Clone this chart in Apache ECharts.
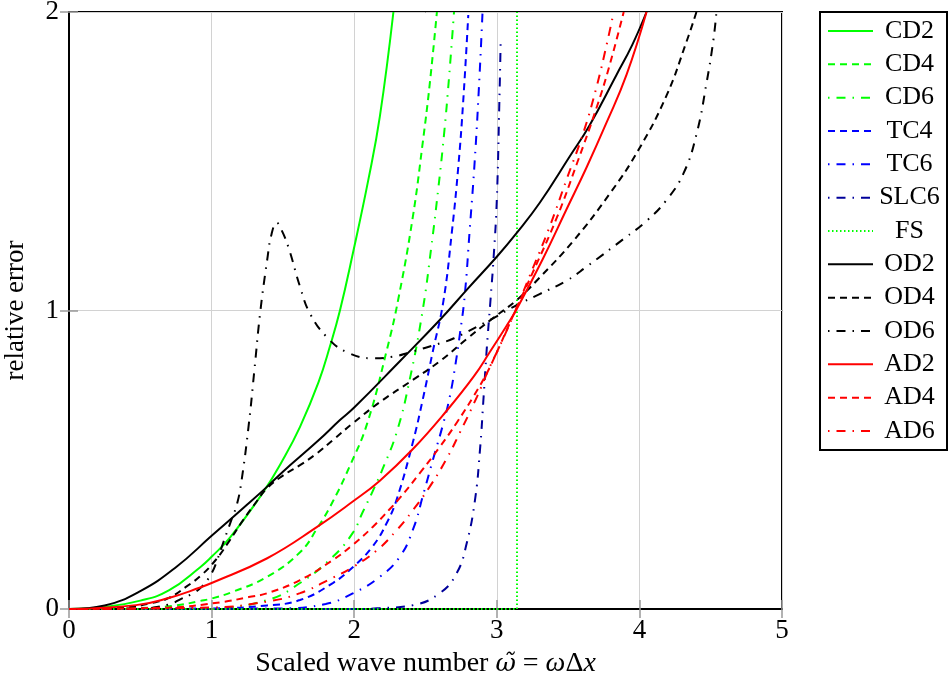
<!DOCTYPE html>
<html><head><meta charset="utf-8">
<script src="https://cdn.jsdelivr.net/npm/echarts@6/dist/echarts.min.js"></script>
<style>html,body{margin:0;padding:0;background:#fff}#c{width:952px;height:682px}</style>
</head><body><div id="c"></div>
<script>
// ---- data ----
const xTickValues = [0, 1, 2, 3, 4, 5];
const yTickValues = [0, 1, 2];
const seriesNames = ['CD2','CD4','CD6','TC4','TC6','SLC6','FS','OD2','OD4','OD6','AD2','AD4','AD6'];

const cd2 = [[0,0],[0.25,0.007],[0.5,0.028],[0.7,0.062],[0.92,0.14],[1.0,0.175],[1.13,0.24],[1.36,0.39],[1.5,0.5],[1.62,0.61],[1.75,0.76],[1.83,0.88],[1.9,1.0],[1.99,1.19],[2.1,1.44],[2.18,1.65],[2.275,2.0]];
const cd4 = [[0,0],[0.5,0.003],[0.75,0.012],[0.92,0.027],[1.0,0.035],[1.15,0.058],[1.39,0.108],[1.62,0.19],[1.74,0.27],[1.85,0.36],[1.97,0.48],[2.09,0.62],[2.23,0.87],[2.31,1.04],[2.41,1.31],[2.48,1.56],[2.53,1.76],[2.58,2.0]];
const cd6 = [[0,0],[1.0,0.003],[1.39,0.03],[1.62,0.087],[1.85,0.175],[1.99,0.255],[2.06,0.325],[2.13,0.395],[2.2,0.47],[2.3,0.595],[2.39,0.77],[2.48,1.0],[2.54,1.21],[2.59,1.41],[2.63,1.59],[2.665,1.78],[2.70,2.0]];
const tc4 = [[0,0],[1.0,0.002],[1.39,0.012],[1.62,0.03],[1.85,0.087],[1.99,0.14],[2.13,0.21],[2.23,0.29],[2.30,0.37],[2.41,0.556],[2.48,0.70],[2.55,0.86],[2.625,1.03],[2.684,1.259],[2.73,1.482],[2.765,1.705],[2.80,1.99]];
const tc6 = [[0,0],[1.5,0.002],[1.8,0.017],[1.99,0.052],[2.18,0.108],[2.32,0.175],[2.415,0.27],[2.485,0.385],[2.555,0.505],[2.625,0.622],[2.672,0.715],[2.707,0.81],[2.742,0.924],[2.775,1.05],[2.81,1.27],[2.845,1.5],[2.875,1.75],[2.90,2.0]];
const slc6 = [[0,0],[2.0,0.0],[2.18,0.003],[2.415,0.013],[2.6,0.053],[2.719,0.12],[2.789,0.22],[2.847,0.365],[2.882,0.533],[2.906,0.70],[2.929,0.868],[2.955,1.03],[2.978,1.18],[3.0,1.37],[3.018,1.70],[3.027,1.9]];
const fs = [[0,0],[3.1416,0],[3.1416,2]];
const od2 = [[0,0],[0.25,0.012],[0.5,0.06],[0.75,0.14],[1.0,0.245],[1.25,0.35],[1.39,0.41],[1.5,0.46],[1.75,0.565],[1.9,0.633],[2.0,0.675],[2.32,0.83],[2.6,0.968],[2.8,1.075],[3.0,1.18],[3.14,1.26],[3.3,1.36],[3.51,1.515],[3.65,1.62],[3.84,1.79],[3.95,1.89],[4.05,2.0]];
const od4 = [[0,0],[0.4,0.006],[0.58,0.02],[0.70,0.037],[0.82,0.074],[0.93,0.114],[1.03,0.165],[1.12,0.225],[1.21,0.29],[1.30,0.35],[1.39,0.405],[1.5,0.447],[1.62,0.482],[1.74,0.522],[1.85,0.566],[1.99,0.622],[2.18,0.693],[2.41,0.767],[2.60,0.83],[2.79,0.905],[2.975,0.975],[3.14,1.035],[3.30,1.11],[3.54,1.235],[3.79,1.39],[3.99,1.535],[4.19,1.72],[4.33,1.90],[4.40,2.0]];
const od6 = [[0,0],[0.5,0.002],[0.7,0.015],[0.79,0.035],[0.86,0.05],[0.93,0.074],[1.0,0.12],[1.04,0.165],[1.08,0.22],[1.14,0.30],[1.18,0.355],[1.21,0.43],[1.26,0.615],[1.30,0.80],[1.34,0.99],[1.39,1.17],[1.42,1.255],[1.456,1.294],[1.49,1.27],[1.54,1.21],[1.62,1.08],[1.69,0.99],[1.81,0.91],[1.95,0.86],[2.13,0.84],[2.27,0.845],[2.39,0.86],[2.6,0.89],[2.70,0.907],[2.95,0.968],[3.14,1.018],[3.30,1.055],[3.49,1.1],[3.63,1.147],[3.89,1.24],[4.05,1.30],[4.19,1.37],[4.31,1.46],[4.40,1.59],[4.47,1.76],[4.52,1.91],[4.54,2.0]];
const ad2 = [[0,0],[0.47,0.013],[0.70,0.037],[0.92,0.072],[1.0,0.087],[1.39,0.17],[1.74,0.275],[1.99,0.36],[2.18,0.43],[2.41,0.535],[2.65,0.665],[2.84,0.78],[2.95,0.86],[3.07,0.95],[3.14,1.005],[3.32,1.17],[3.49,1.34],[3.63,1.48],[3.77,1.63],[3.91,1.79],[4.05,2.0]];
const ad4 = [[0,0],[0.7,0.005],[1.07,0.023],[1.26,0.04],[1.39,0.053],[1.62,0.097],[1.85,0.164],[1.99,0.215],[2.13,0.275],[2.25,0.335],[2.32,0.372],[2.46,0.455],[2.60,0.543],[2.72,0.625],[2.84,0.715],[2.93,0.79],[3.0,0.86],[3.07,0.935],[3.14,1.01],[3.25,1.125],[3.42,1.31],[3.56,1.49],[3.70,1.68],[3.79,1.82],[3.89,2.0]];
const ad6 = [[0,0],[1.0,0.005],[1.39,0.025],[1.62,0.053],[1.85,0.105],[1.99,0.14],[2.16,0.197],[2.30,0.265],[2.41,0.33],[2.53,0.41],[2.65,0.505],[2.74,0.59],[2.86,0.71],[2.95,0.81],[3.02,0.88],[3.14,1.01],[3.23,1.115],[3.37,1.28],[3.49,1.44],[3.61,1.60],[3.70,1.75],[3.77,1.89],[3.82,2.0]];

const seriesData = [cd2, cd4, cd6, tc4, tc6, slc6, fs, od2, od4, od6, ad2, ad4, ad6];

// ---- styles ----
const FONT = 'Liberation Serif';
const GREEN = '#00ff00', BLUE = '#0000ff', NAVY = '#00009a', BLACK = '#000000', RED = '#ff0000';
const SOLID = 'solid', DASH = [7, 5], DASHDOT = [1.5, 7, 9, 7], DOT = [1.5, 2.5];
const styles = [
  [GREEN, SOLID], [GREEN, DASH], [GREEN, DASHDOT],
  [BLUE, DASH], [BLUE, DASHDOT], [NAVY, DASHDOT],
  [GREEN, DOT],
  [BLACK, SOLID], [BLACK, DASH], [BLACK, DASHDOT],
  [RED, SOLID], [RED, DASH], [RED, DASHDOT]
];

const series = seriesNames.map((name, i) => ({
  name: name,
  type: 'line',
  data: seriesData[i],
  symbol: 'none',
  showSymbol: false,
  smooth: name === 'FS' ? false : 0.45,
  clip: true,
  color: styles[i][0],
  itemStyle: { color: styles[i][0], opacity: 0 },
  lineStyle: { color: styles[i][0], type: styles[i][1], width: 2 },
  emphasis: { disabled: true },
  silent: true
}));

const chart = echarts.init(document.getElementById('c'), null, { renderer: 'canvas' });
const axisLabelStyle = { fontFamily: FONT, fontSize: 27, color: '#000' };
chart.setOption({
  animation: false,
  backgroundColor: '#fff',
  grid: { left: 69, right: 170, top: 12, bottom: 73, show: true, borderColor: '#000', borderWidth: 2,
          backgroundColor: 'transparent', containLabel: false, outerBoundsMode: 'none' },
  legend: {
    orient: 'vertical', left: 820, top: 12,
    padding: [6, 6, 6, 7],
    itemWidth: 45, itemHeight: 14, itemGap: 7.33,
    borderColor: '#000', borderWidth: 2, borderRadius: 0,
    selectedMode: false,
    itemStyle: { opacity: 0 },
    data: seriesNames,
    formatter: n => '{t|' + n + '}',
    textStyle: {
      fontFamily: FONT, fontSize: 26, color: '#000',
      rich: { t: { width: 63, align: 'center', fontFamily: FONT, fontSize: 26, lineHeight: 26, color: '#000' } }
    }
  },
  xAxis: [{
    type: 'value', min: 0, max: 5, interval: 1, position: 'bottom',
    axisLine: { show: true, lineStyle: { color: '#000', width: 2 } },
    axisTick: { show: true, inside: true, length: 9, lineStyle: { color: '#999', width: 1.5 } },
    splitLine: { show: true, lineStyle: { color: '#d2d2d2', width: 1 } },
    axisLabel: Object.assign({ margin: 8, formatter: v => String(v) }, axisLabelStyle),
    name: '{n|Scaled wave number }{w|ω̃}{n| = }{i|ω}{n|Δ}{i|x}',
    nameLocation: 'middle', nameGap: 41,
    nameTextStyle: { rich: {
      n: { fontFamily: FONT, fontSize: 28, color: '#000' },
      w: { fontFamily: 'DejaVu Serif', fontSize: 25, fontStyle: 'italic', color: '#000' },
      i: { fontFamily: FONT, fontSize: 28, fontStyle: 'italic', color: '#000' }
    } }
  }, {
    type: 'value', min: 0, max: 5, interval: 1, position: 'top',
    axisLine: { show: true, lineStyle: { color: '#000', width: 2 } },
    axisTick: { show: true, inside: true, length: 9, lineStyle: { color: '#999', width: 1.5 } },
    splitLine: { show: false }, axisLabel: { show: false }
  }],
  yAxis: [{
    type: 'value', min: 0, max: 2, interval: 1, position: 'left',
    axisLine: { show: true, lineStyle: { color: '#000', width: 2 } },
    axisTick: { show: true, inside: true, length: 9, lineStyle: { color: '#999', width: 1.5 } },
    splitLine: { show: true, lineStyle: { color: '#d2d2d2', width: 1 } },
    axisLabel: Object.assign({ margin: 10, formatter: v => String(v) }, axisLabelStyle),
    name: 'relative error', nameLocation: 'middle', nameGap: 40,
    nameTextStyle: { fontFamily: FONT, fontSize: 27, color: '#000' }
  }, {
    type: 'value', min: 0, max: 2, interval: 1, position: 'right',
    axisLine: { show: true, lineStyle: { color: '#000', width: 2 } },
    axisTick: { show: true, inside: true, length: 9, lineStyle: { color: '#999', width: 1.5 } },
    splitLine: { show: false }, axisLabel: { show: false }
  }],
  series: series
});
</script></body></html>
